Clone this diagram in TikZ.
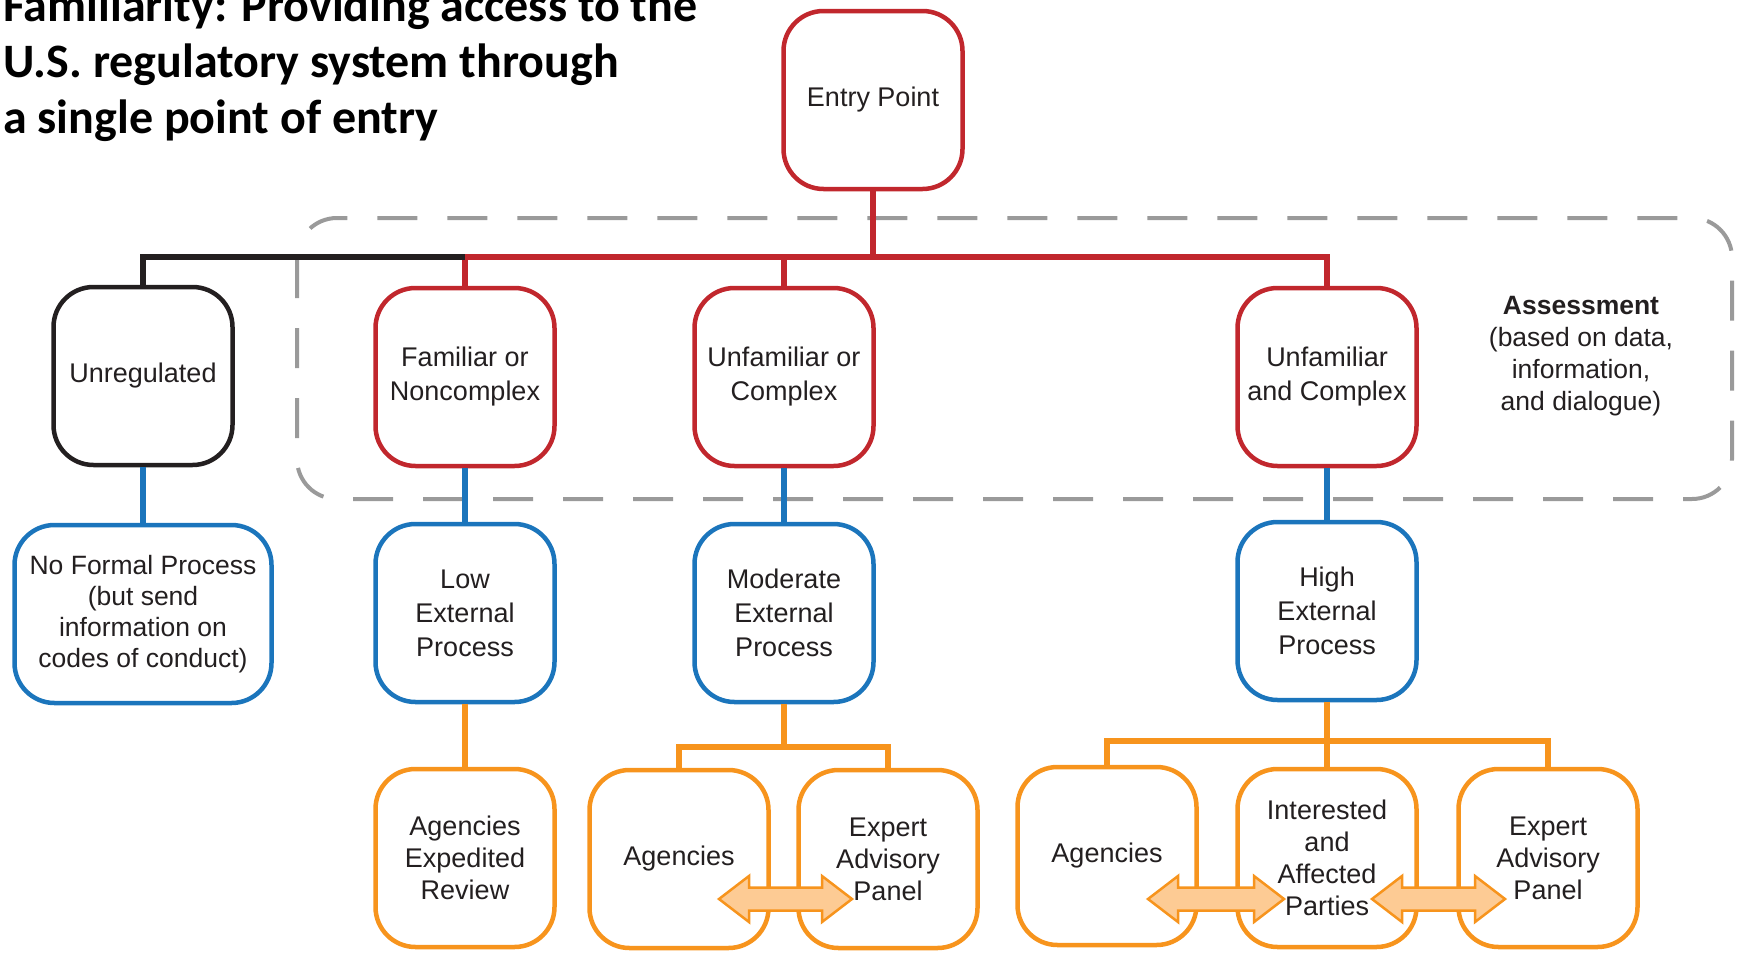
\documentclass[tikz,border=0pt]{standalone}
\usepackage{fontspec}
\setmainfont{Liberation Sans}
\newfontfamily\titlefont{Carlito}
\usetikzlibrary{calc}

\definecolor{boxred}{HTML}{C1272D}
\definecolor{boxblue}{HTML}{1B75BC}
\definecolor{boxorange}{HTML}{F7941D}
\definecolor{boxblack}{HTML}{231F20}
\definecolor{dashgray}{HTML}{9A9A9A}
\definecolor{arrowfill}{HTML}{FDCB94}

\newcommand{\BlockArrow}[2]{%
  \draw[ArrowStyle] let \p1 = (#1), \p2 = (#2) in
    (\x1,\y1) -- (\x1+30pt,\y1+23pt) -- (\x1+30pt,\y1+11.5pt)
    -- (\x2-30pt,\y2+11.5pt) -- (\x2-30pt,\y2+23pt) -- (\x2,\y2)
    -- (\x2-30pt,\y2-23pt) -- (\x2-30pt,\y2-11.5pt)
    -- (\x1+30pt,\y1-11.5pt) -- (\x1+30pt,\y1-23pt) -- cycle;}

\begin{document}
\begin{tikzpicture}[x=1pt,y=1pt]
  \tikzset{BoxStyle/.style = {shape          = rectangle,
                              rounded corners = 40pt,
                              line width     = 4.5pt,
                              fill           = white,
                              text           = boxblack,
                              minimum width  = 179pt,
                              minimum height = 178pt,
                              inner sep      = 2pt,
                              align          = center,
                              font           = \fontsize{27}{32}\selectfont}}
  \tikzset{BoxRed/.style    = {BoxStyle, draw = boxred,
                              font = \fontsize{27}{34}\selectfont}}
  \tikzset{BoxBlack/.style  = {BoxStyle, draw = boxblack}}
  \tikzset{BoxBlue/.style   = {BoxStyle, draw = boxblue,
                              font = \fontsize{27}{34}\selectfont}}
  \tikzset{BoxOrange/.style = {BoxStyle, draw = boxorange}}
  \tikzset{LineStyle/.style = {line width = 6pt, line join = miter}}
  \tikzset{ArrowStyle/.style = {fill = arrowfill, draw = boxorange,
                              line width = 2.5pt, line join = miter}}

\useasboundingbox (0,0) rectangle (1739,-953);

\node[anchor=base west, align=left, inner sep=0pt,
      font=\titlefont\bfseries\fontsize{48}{56}\selectfont] (title) at (3,-133)
  {Familiarity: Providing access to the\\U.S. regulatory system through\\a single point of entry};

% assessment frame
\draw[dashgray, line width=4pt, dash pattern=on 40pt off 30pt,
      rounded corners=40pt] (297,-218) rectangle (1732,-499);

\coordinate (ebus) at (873,-257);
\coordinate (mbus) at (784,-747);
\coordinate (hbus) at (1327,-741);

\draw[LineStyle, boxred] (873,-100) -- (ebus);
\draw[LineStyle, boxred] (465,-377) |- (ebus) -| (1327,-377);
\draw[LineStyle, boxred] (784,-377) -- (784 ,-257);
\draw[LineStyle, boxblack] (143,-376) |- (465,-257);

\node[BoxRed]    (entry)  at (873,-100)  {Entry Point};
\node[BoxBlack]  (unreg)  at (143,-376)  {Unregulated};
\node[BoxRed]    (fam)    at (465,-377)  {Familiar or\\Noncomplex};
\node[BoxRed]    (unfor)  at (784,-377)  {Unfamiliar or\\Complex};
\node[BoxRed]    (unfand) at (1327,-377) {Unfamiliar\\and Complex};

\node[align=center, text=boxblack, font=\fontsize{26.5}{32}\selectfont] (assess) at (1581,-356)
  {\textbf{Assessment}\\(based on data,\\information,\\and dialogue)};

\node[BoxBlue, minimum width=257pt, font=\fontsize{26.5}{31}\selectfont] (nfp) at (143,-614)
  {No Formal Process\\(but send\\information on\\codes of conduct)};
\node[BoxBlue]   (low)    at (465,-613)  {Low\\External\\Process};
\node[BoxBlue]   (mod)    at (784,-613)  {Moderate\\External\\Process};
\node[BoxBlue]   (high)   at (1327,-611) {High\\External\\Process};

\draw[LineStyle, boxblue] (unreg) -- (nfp);
\draw[LineStyle, boxblue] (fam) -- (low);
\draw[LineStyle, boxblue] (unfor) -- (mod);
\draw[LineStyle, boxblue] (unfand) -- (high);

\node[BoxOrange] (aer)    at (465,-858)  {Agencies\\Expedited\\Review};
\node[BoxOrange] (agm)    at (679,-859)  {Agencies};
\node[BoxOrange] (expm)   at (888,-859)  {Expert\\Advisory\\Panel};
\node[BoxOrange] (agr)    at (1107,-856) {Agencies};
\node[BoxOrange] (int)    at (1327,-858) {Interested\\and\\Affected\\Parties};
\node[BoxOrange] (expr)   at (1548,-858) {Expert\\Advisory\\Panel};

\draw[LineStyle, boxorange] (low) -- (aer);
\draw[LineStyle, boxorange] (mod) -- (mbus);
\draw[LineStyle, boxorange] (agm.north) |- (mbus) -| (expm.north);
\draw[LineStyle, boxorange] (high) -- (int);
\draw[LineStyle, boxorange] (agr.north) |- (hbus) -| (expr.north);

% two-way arrows
\coordinate (ma) at (719,-899);
\coordinate (mb) at (852,-899);
\coordinate (ra) at (1148,-899);
\coordinate (rb) at (1284,-899);
\coordinate (rc) at (1372,-899);
\coordinate (rd) at (1505,-899);
\BlockArrow{ma}{mb}
\BlockArrow{ra}{rb}
\BlockArrow{rc}{rd}
\end{tikzpicture}
\end{document}
